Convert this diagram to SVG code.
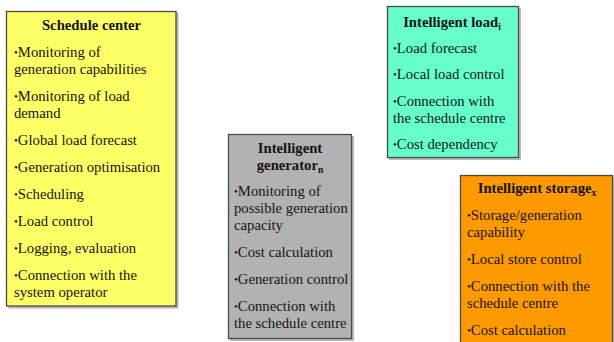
<svg xmlns="http://www.w3.org/2000/svg" width="614" height="342" viewBox="0 0 614 342">
<style>
text { font-family: "Liberation Serif", "DejaVu Serif", serif; font-size: 14.7px; fill: #141414; }
.t { font-weight: bold; text-anchor: middle; }
.b { font-size: 11px; }
.s { font-size: 9.5px; }
.box { stroke: #4a4a4a; stroke-width: 1.3; }
.sh { fill: #b8b8b8; }
</style>
<rect width="614" height="342" fill="#ffffff"/>
<g id="connectors"/>
<g id="schedule-center">
<rect class="sh" x="8.5" y="12.5" width="170" height="296"/>
<rect class="box" x="6.5" y="11.5" width="169.5" height="294.5" fill="#ffff66"/>
<text class="t" x="91.5" y="30">Schedule center</text>
<text x="14" y="57"><tspan class="b" dy="-1">•</tspan><tspan dy="1">Monitoring of</tspan></text>
<text x="14" y="74">generation capabilities</text>
<text x="14" y="101"><tspan class="b" dy="-1">•</tspan><tspan dy="1">Monitoring of load</tspan></text>
<text x="14" y="118">demand</text>
<text x="14" y="145"><tspan class="b" dy="-1">•</tspan><tspan dy="1">Global load forecast</tspan></text>
<text x="14" y="172"><tspan class="b" dy="-1">•</tspan><tspan dy="1">Generation optimisation</tspan></text>
<text x="14" y="199"><tspan class="b" dy="-1">•</tspan><tspan dy="1">Scheduling</tspan></text>
<text x="14" y="226"><tspan class="b" dy="-1">•</tspan><tspan dy="1">Load control</tspan></text>
<text x="14" y="253"><tspan class="b" dy="-1">•</tspan><tspan dy="1">Logging, evaluation</tspan></text>
<text x="14" y="280"><tspan class="b" dy="-1">•</tspan><tspan dy="1">Connection with the</tspan></text>
<text x="14" y="297">system operator</text>
</g>
<g id="intelligent-generator">
<rect class="sh" x="230" y="136" width="124" height="205"/>
<rect class="box" x="228.5" y="134.5" width="123" height="204" fill="#b2b2b2"/>
<text class="t" x="290" y="153">Intelligent</text>
<text class="t" x="290" y="170">generator<tspan class="s" dy="3">n</tspan></text>
<text x="234" y="196"><tspan class="b" dy="-1">•</tspan><tspan dy="1">Monitoring of</tspan></text>
<text x="234" y="213">possible generation</text>
<text x="234" y="230">capacity</text>
<text x="234" y="257"><tspan class="b" dy="-1">•</tspan><tspan dy="1">Cost calculation</tspan></text>
<text x="234" y="284"><tspan class="b" dy="-1">•</tspan><tspan dy="1">Generation control</tspan></text>
<text x="234" y="311"><tspan class="b" dy="-1">•</tspan><tspan dy="1">Connection with</tspan></text>
<text x="234" y="328">the schedule centre</text>
</g>
<g id="intelligent-load">
<rect class="sh" x="389" y="8" width="132" height="152"/>
<rect class="box" x="387.5" y="6.5" width="131" height="151" fill="#66ffcc"/>
<text class="t" x="452" y="27">Intelligent load<tspan class="s" dy="3">i</tspan></text>
<text x="393" y="52.5"><tspan class="b" dy="-1">•</tspan><tspan dy="1">Load forecast</tspan></text>
<text x="393" y="79"><tspan class="b" dy="-1">•</tspan><tspan dy="1">Local load control</tspan></text>
<text x="393" y="105.5"><tspan class="b" dy="-1">•</tspan><tspan dy="1">Connection with</tspan></text>
<text x="393" y="122.5">the schedule centre</text>
<text x="393" y="149"><tspan class="b" dy="-1">•</tspan><tspan dy="1">Cost dependency</tspan></text>
</g>
<g id="intelligent-storage">
<rect class="sh" x="462" y="177" width="152" height="180"/>
<rect class="box" x="460.5" y="175.5" width="152" height="180" fill="#ff9900"/>
<text class="t" x="537" y="193">Intelligent storage<tspan class="s" dy="3">x</tspan></text>
<text x="467" y="220"><tspan class="b" dy="-1">•</tspan><tspan dy="1">Storage/generation</tspan></text>
<text x="467" y="237">capability</text>
<text x="467" y="264"><tspan class="b" dy="-1">•</tspan><tspan dy="1">Local store control</tspan></text>
<text x="467" y="291"><tspan class="b" dy="-1">•</tspan><tspan dy="1">Connection with the</tspan></text>
<text x="467" y="308">schedule centre</text>
<text x="467" y="335"><tspan class="b" dy="-1">•</tspan><tspan dy="1">Cost calculation</tspan></text>
</g>
</svg>
